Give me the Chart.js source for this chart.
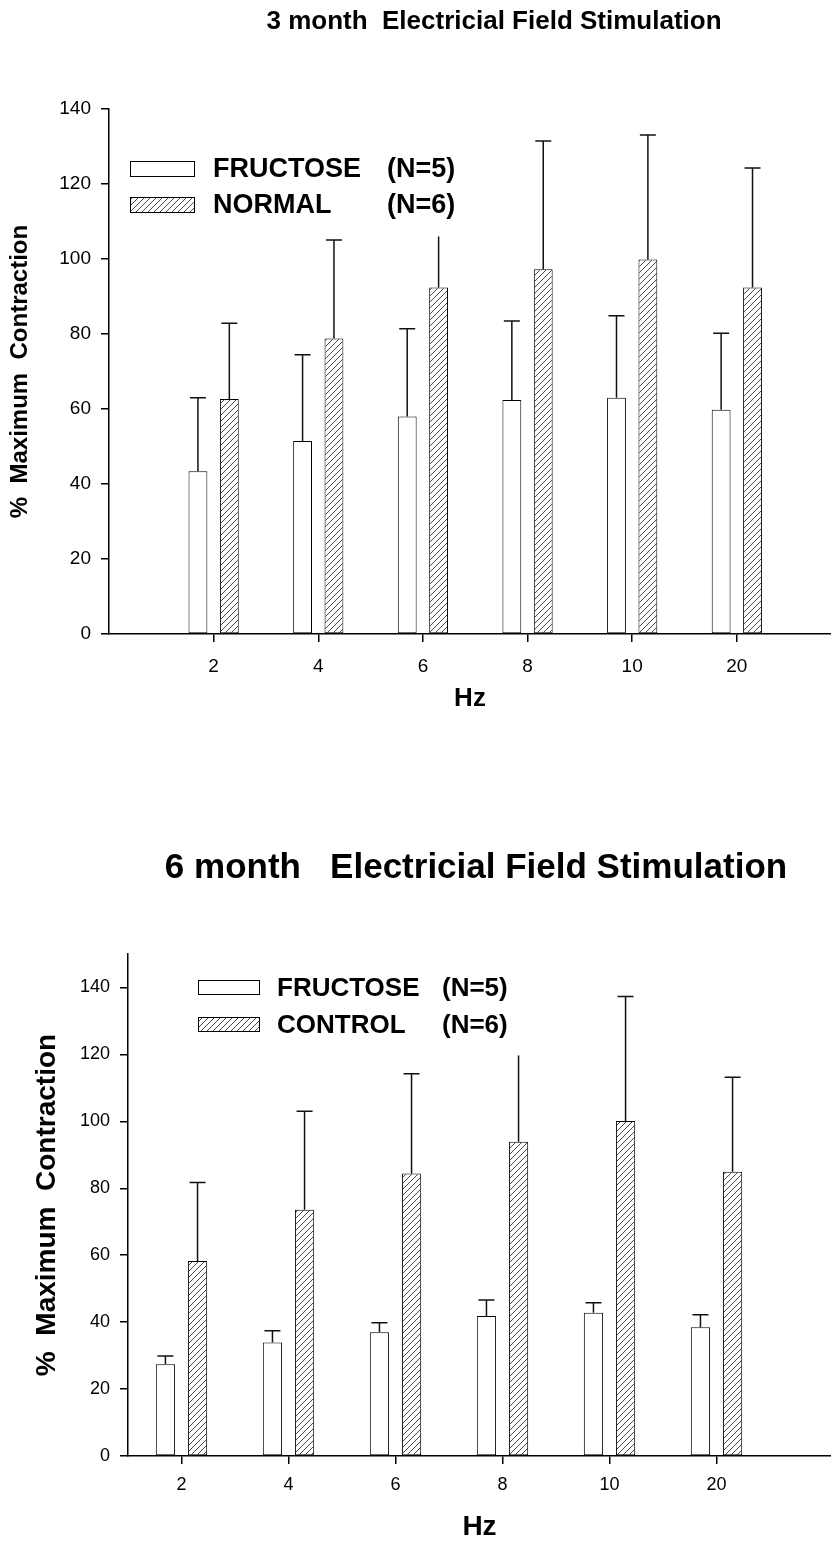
<!DOCTYPE html>
<html>
<head>
<meta charset="utf-8">
<script src="https://cdn.jsdelivr.net/npm/chart.js@4.4.1/dist/chart.umd.min.js"></script>
<style>
  html, body { margin: 0; padding: 0; background: #fff; }
  body { width: 831px; height: 1544px; overflow: hidden; font-family: 'Liberation Sans', Arial, sans-serif; }
  .box { position: relative; width: 831px; }
  #top { height: 770px; }
  #bottom { height: 774px; }
  .title { position: absolute; transform: translate(-50%, -50%); white-space: pre; font-weight: bold; color: #000; z-index: 2; }
  #top .title { left: 494px; top: 20px; font-size: 26px; }
  #bottom .title { left: 476px; top: 96px; font-size: 35px; }
</style>
</head>
<body>
<div class="box" id="top">
  <div class="title">3 month  Electricial Field Stimulation</div>
  <canvas id="chart3m"></canvas>
</div>
<div class="box" id="bottom">
  <div class="title">6 month   Electricial Field Stimulation</div>
  <canvas id="chart6m"></canvas>
</div>
<script>
const hzLabels = ['2', '4', '6', '8', '10', '20'];

// 3 month panel
const fructose3m = [43.4, 51.5, 58.0, 62.4, 63.0, 59.8];
const fructose3mErr = [19.6, 23.0, 23.4, 21.1, 21.9, 20.4];
const normal3m = [62.7, 78.8, 92.4, 97.3, 99.9, 92.4];
const normal3mErr = [20.2, 26.3, 13.6, 34.2, 33.2, 31.9];
const normal3mNoCap = [2];

// 6 month panel
const fructose6m = [27.4, 33.9, 37.0, 41.8, 42.8, 38.5];
const fructose6mErr = [2.5, 3.5, 2.8, 4.8, 3.0, 3.7];
const control6m = [58.3, 73.6, 84.4, 93.9, 100.1, 84.9];
const control6mErr = [23.4, 29.4, 29.8, 25.8, 37.2, 28.3];
const control6mNoCap = [3];

const FONT = "'Liberation Sans', Arial, sans-serif";
Chart.defaults.font.family = FONT;
Chart.defaults.color = '#000';

function hatch() {
  const c = document.createElement('canvas');
  c.width = 6; c.height = 6;
  const g = c.getContext('2d');
  g.fillStyle = '#fff';
  g.fillRect(0, 0, 6, 6);
  g.strokeStyle = '#333';
  g.lineWidth = 0.9;
  g.beginPath();
  g.moveTo(0, 6); g.lineTo(6, 0);
  g.moveTo(-1, 1); g.lineTo(1, -1);
  g.moveTo(5, 7); g.lineTo(7, 5);
  g.stroke();
  return g.createPattern(c, 'repeat');
}

function points(values) {
  return values.map((v, i) => ({ x: i + 1, y: v }));
}

// vertical error bars above each bar
const errorBars = {
  id: 'errorBars',
  afterDatasetsDraw(chart) {
    const ctx = chart.ctx;
    const y = chart.scales.y;
    ctx.save();
    ctx.strokeStyle = '#111';
    ctx.lineWidth = 1.5;
    chart.data.datasets.forEach((ds, di) => {
      const meta = chart.getDatasetMeta(di);
      meta.data.forEach((bar, i) => {
        const top = y.getPixelForValue(ds.data[i].y + ds.errors[i]);
        ctx.beginPath();
        ctx.moveTo(bar.x, bar.y);
        ctx.lineTo(bar.x, top);
        if (!(ds.noCap || []).includes(i)) {
          ctx.moveTo(bar.x - 8, top);
          ctx.lineTo(bar.x + 8, top);
        }
        ctx.stroke();
      });
    });
    ctx.restore();
  }
};

// legend drawn inside the plot, like the original
const boxLegend = {
  id: 'boxLegend',
  afterDraw(chart, args, o) {
    const ctx = chart.ctx;
    ctx.save();
    ctx.font = o.fontSpec;
    ctx.textBaseline = 'middle';
    chart.data.datasets.forEach((ds, i) => {
      const y = o.top + i * o.rowGap;
      ctx.fillStyle = ds.backgroundColor;
      ctx.fillRect(o.left, y, o.boxW, o.boxH);
      ctx.strokeStyle = '#000';
      ctx.lineWidth = 1;
      ctx.strokeRect(o.left + 0.5, y + 0.5, o.boxW - 1, o.boxH - 1);
      ctx.fillStyle = '#000';
      ctx.fillText(ds.label, o.textX, y + o.boxH / 2 + 1);
      ctx.fillText(ds.count, o.countX, y + o.boxH / 2 + 1);
    });
    ctx.restore();
  }
};

function makeChart(id, cfg) {
  return new Chart(document.getElementById(id), {
    type: 'bar',
    data: {
      datasets: [
        {
          label: cfg.names[0], count: cfg.counts[0],
          data: points(cfg.a), errors: cfg.aErr, noCap: cfg.aNoCap,
          backgroundColor: '#fff', borderColor: '#000', borderWidth: 1, borderSkipped: false,
          categoryPercentage: 0.6, barPercentage: 0.6
        },
        {
          label: cfg.names[1], count: cfg.counts[1],
          data: points(cfg.b), errors: cfg.bErr, noCap: cfg.bNoCap,
          backgroundColor: hatch(), borderColor: '#000', borderWidth: 1, borderSkipped: false,
          categoryPercentage: 0.6, barPercentage: 0.6
        }
      ]
    },
    options: {
      responsive: true,
      maintainAspectRatio: false,
      animation: false,
      layout: { padding: { top: cfg.padTop, right: 0, left: 0, bottom: cfg.padBottom } },
      plugins: {
        legend: { display: false },
        tooltip: { enabled: false },
        title: { display: false },
        boxLegend: cfg.legend
      },
      scales: {
        x: {
          type: 'linear', min: cfg.xMin, max: cfg.xMax, offset: false,
          afterBuildTicks: s => { s.ticks = hzLabels.map((_, i) => ({ value: i + 1 })); },
          afterFit: s => { s.height = cfg.xHeight; s.paddingLeft = 0; s.paddingRight = 0; },
          ticks: {
            callback: v => hzLabels[v - 1] ?? '',
            font: { size: cfg.tickSize }, padding: cfg.xTickPad, maxRotation: 0
          },
          grid: { display: true, offset: false, drawOnChartArea: false, drawTicks: true, tickLength: 8, color: '#000', lineWidth: 1.5 },
          border: { display: true, color: '#000', width: 1.5 },
          title: {
            display: true, text: 'Hz', color: '#000',
            font: { size: cfg.hzSize, weight: 'bold' },
            padding: { top: cfg.hzPad, bottom: 0 }
          }
        },
        y: {
          min: 0, max: cfg.yMax,
          afterFit: s => { s.width = cfg.yWidth; s.paddingTop = 0; s.paddingBottom = 0; },
          ticks: { stepSize: 20, includeBounds: false, font: { size: cfg.tickSize }, padding: 10 },
          grid: { display: true, drawOnChartArea: false, drawTicks: true, tickLength: 8, color: '#000', lineWidth: 1.5 },
          border: { display: true, color: '#000', width: 1.5 },
          title: {
            display: true, text: '%  Maximum  Contraction', color: '#000',
            font: { size: cfg.yTitleSize, weight: 'bold' },
            padding: { top: cfg.yTitlePad, bottom: 0 }
          }
        }
      }
    },
    plugins: [errorBars, boxLegend]
  });
}

makeChart('chart3m', {
  names: ['FRUCTOSE', 'NORMAL'], counts: ['(N=5)', '(N=6)'],
  a: fructose3m, aErr: fructose3mErr, aNoCap: [],
  b: normal3m, bErr: normal3mErr, bNoCap: normal3mNoCap,
  padTop: 109, xMin: 0, xMax: 6.9, xHeight: 80, padBottom: 56, xTickPad: 13, hzPad: 2,
  yMax: 140, yWidth: 109, yTitlePad: 6,
  tickSize: 19, yTitleSize: 24, hzSize: 26,
  legend: { left: 130, top: 161, rowGap: 36, boxW: 65, boxH: 16, textX: 213, countX: 387,
            fontSpec: "bold 27px 'Liberation Sans', Arial, sans-serif" }
});

makeChart('chart6m', {
  names: ['FRUCTOSE', 'CONTROL'], counts: ['(N=5)', '(N=6)'],
  a: fructose6m, aErr: fructose6mErr, aNoCap: [],
  b: control6m, bErr: control6mErr, bNoCap: control6mNoCap,
  padTop: 184, xMin: 0.5, xMax: 7.07, xHeight: 88, padBottom: 0, xTickPad: 10, hzPad: 0,
  yMax: 150, yWidth: 128, yTitlePad: 30,
  tickSize: 18, yTitleSize: 28, hzSize: 28,
  legend: { left: 198, top: 210, rowGap: 37, boxW: 62, boxH: 15, textX: 277, countX: 442,
            fontSpec: "bold 26px 'Liberation Sans', Arial, sans-serif" }
});
</script>
</body>
</html>
